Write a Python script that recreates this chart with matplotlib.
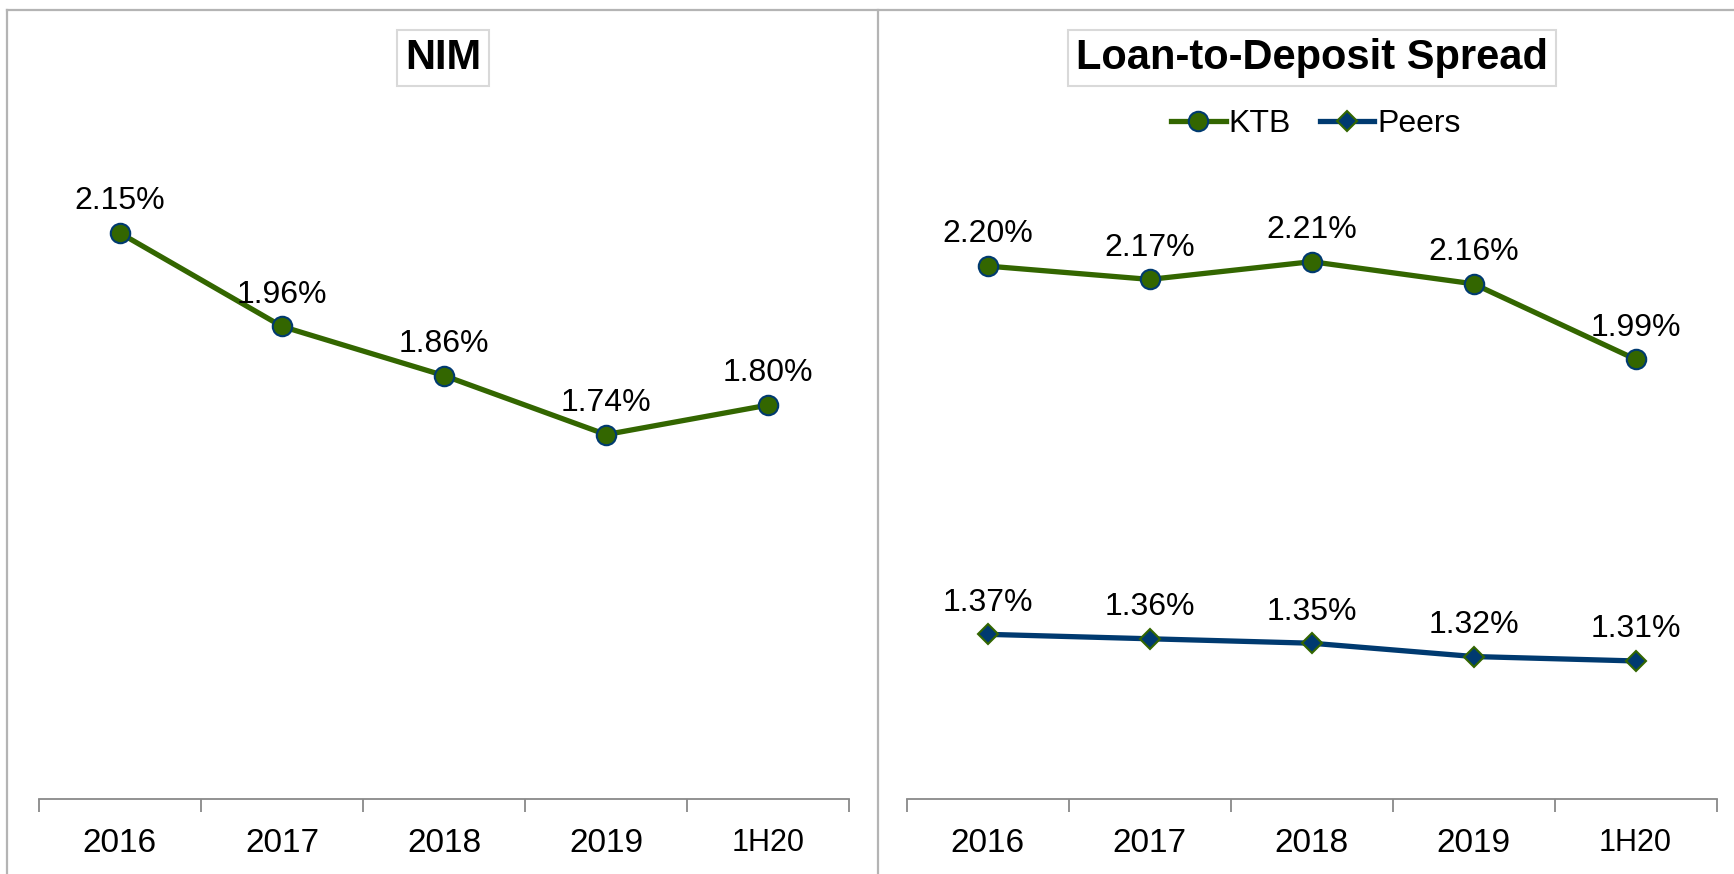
import matplotlib.pyplot as plt
from matplotlib.lines import Line2D

# data
categories = ["2016", "2017", "2018", "2019", "1H20"]
nim = [2.15, 1.96, 1.86, 1.74, 1.80]
ktb_spread = [2.20, 2.17, 2.21, 2.16, 1.99]
peers_spread = [1.37, 1.36, 1.35, 1.32, 1.31]

GREEN = "#336600"
NAVY = "#003A70"
FRAME = "#B4B4B4"
AXIS = "#898989"

plt.rcParams['font.family'] = ['Liberation Sans', 'DejaVu Sans']

W, H = 1734, 874
fig = plt.figure(figsize=(W / 100, H / 100), dpi=100)


def px_box(x0, x1, ytop, ybot):
    # pixel edges -> figure fraction rect
    return [x0 / W, 1 - ybot / H, (x1 - x0) / W, (ybot - ytop) / H]


ax1 = fig.add_axes(px_box(38.7, 849.3, 110, 798.5))
ax2 = fig.add_axes(px_box(906.8, 1716.5, 133, 798.5))

x = list(range(len(categories)))


def style(ax, ymax):
    ax.set_xlim(-0.5, len(categories) - 0.5)
    ax.set_ylim(1.0, ymax)
    for s in ['top', 'right', 'left']:
        ax.spines[s].set_visible(False)
    ax.spines['bottom'].set_color(AXIS)
    ax.spines['bottom'].set_linewidth(1.3)
    ax.set_yticks([])
    ax.set_xticks([i - 0.5 for i in range(len(categories) + 1)])
    ax.set_xticks(x, minor=True)
    ax.set_xticklabels(categories, minor=True, fontsize=24)
    ax.tick_params(axis='x', which='major', length=9, width=1.3,
                   color=AXIS, labelbottom=False)
    ax.tick_params(axis='x', which='minor', length=0, pad=21)
    ax.get_xticklabels(minor=True)[-1].set_fontsize(22)


def labels(ax, vals):
    for i, v in zip(x, vals):
        ax.annotate("%.2f%%" % v, (i, v), xytext=(0, 17),
                    textcoords='offset points', ha='center', va='baseline',
                    fontsize=23)


style(ax1, 2.4)
style(ax2, 2.5)

ax1.plot(x, nim, color=GREEN, lw=3.8, marker='o', ms=14,
         mfc=GREEN, mec=NAVY, mew=1.5)
labels(ax1, nim)

ax2.plot(x, ktb_spread, color=GREEN, lw=3.8, marker='o', ms=14,
         mfc=GREEN, mec=NAVY, mew=1.5, label='KTB')
ax2.plot(x, peers_spread, color=NAVY, lw=3.8, marker='D', ms=10,
         mfc=NAVY, mec=GREEN, mew=1.5, label='Peers')
labels(ax2, ktb_spread)
labels(ax2, peers_spread)

ax2.legend(loc='center', bbox_to_anchor=(1316 / W, 1 - 124 / H),
           bbox_transform=fig.transFigure, ncol=2, frameon=False,
           fontsize=23, handlelength=1.7, handletextpad=0.1,
           columnspacing=0.9)

# panel frames
ytop = 1 - 10 / H
for seg in [([7 / W, 1], [ytop, ytop]),
            ([7 / W, 7 / W], [0, ytop]),
            ([878 / W, 878 / W], [0, ytop])]:
    fig.add_artist(Line2D(seg[0], seg[1], transform=fig.transFigure,
                          color=FRAME, lw=1.6))

# titles
tbox = dict(boxstyle='square,pad=0.2', fc='white', ec='#D9D9D9', lw=1.5)
fig.text(443 / W, 1 - 58 / H, "NIM", fontsize=30, weight='bold',
         ha='center', va='center', bbox=tbox)
fig.text(1312 / W, 1 - 58 / H, "Loan-to-Deposit Spread", fontsize=30,
         weight='bold', ha='center', va='center', bbox=tbox)

fig.savefig('out.png', dpi=100)
